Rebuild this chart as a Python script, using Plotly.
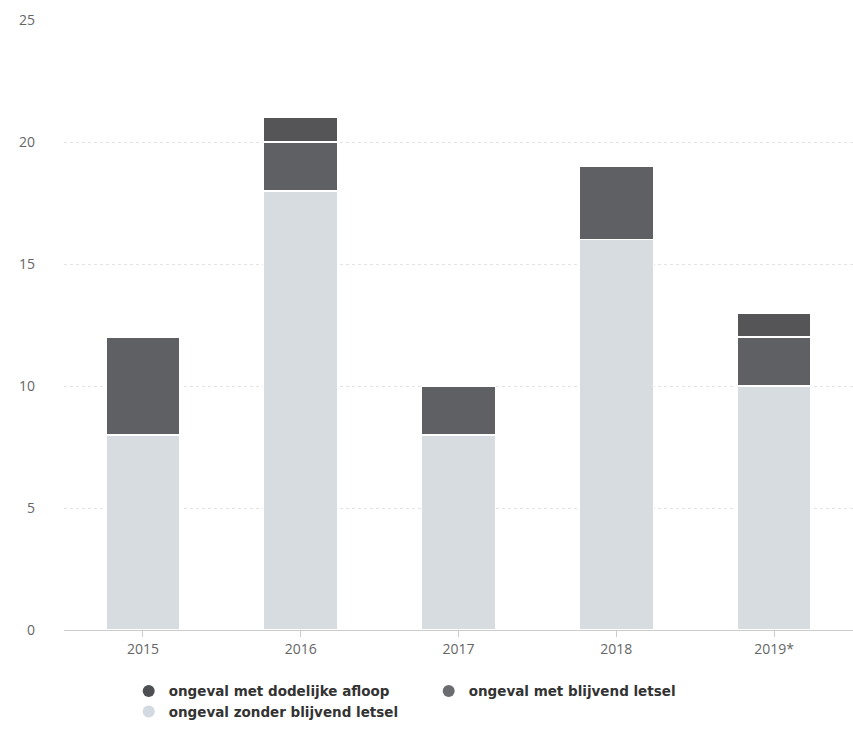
import plotly.graph_objects as go

years = ["2015", "2016", "2017", "2018", "2019*"]
zonder = [8, 18, 8, 16, 10]
blijvend = [4, 2, 2, 3, 2]
dodelijk = [0, 1, 0, 0, 1]

names = ["ongeval met dodelijke afloop", "ongeval met blijvend letsel", "ongeval zonder blijvend letsel"]
colors = {"dodelijk": "#555558", "blijvend": "#5f6064", "zonder": "#d7dce1"}
legend_colors = ["#4e4f52", "#6b6c70", "#d2d9e0"]

fig = go.Figure()
for vals, key in [(zonder, "zonder"), (blijvend, "blijvend"), (dodelijk, "dodelijk")]:
    fig.add_trace(go.Bar(x=years, y=vals, marker=dict(color=colors[key], line=dict(color="white", width=1.5)),
                         showlegend=False, hoverinfo="y"))

for n, c in zip(names, legend_colors):
    fig.add_trace(go.Scatter(x=[None], y=[None], mode="markers", name=n,
                             marker=dict(symbol="circle", size=14, color=c)))

fig.update_layout(
    barmode="stack",
    bargap=0.53,
    width=853, height=736,
    margin=dict(l=64, r=0, t=20, b=106),
    plot_bgcolor="white", paper_bgcolor="white",
    font=dict(family="Open Sans", color="#666666", size=14),
    xaxis=dict(showgrid=False, showline=True, linecolor="#cccccc", linewidth=1,
               ticks="outside", tickcolor="#cccccc", ticklen=6, tickfont=dict(size=14, color="#666666")),
    yaxis=dict(range=[0, 25], dtick=5, showgrid=True, gridcolor="#e3e3e3", gridwidth=1, griddash="dot",
               zeroline=False, tickfont=dict(size=14, color="#666666"), ticklabelstandoff=28),
    legend=dict(orientation="h", x=0.082, y=-0.075, xanchor="left", yanchor="top",
                traceorder="normal",
                entrywidth=255, entrywidthmode="pixels",
                font=dict(size=13.5, color="#333333", family="DejaVu Sans", weight="bold"), itemsizing="constant"),
)
fig.write_html("out.html")
